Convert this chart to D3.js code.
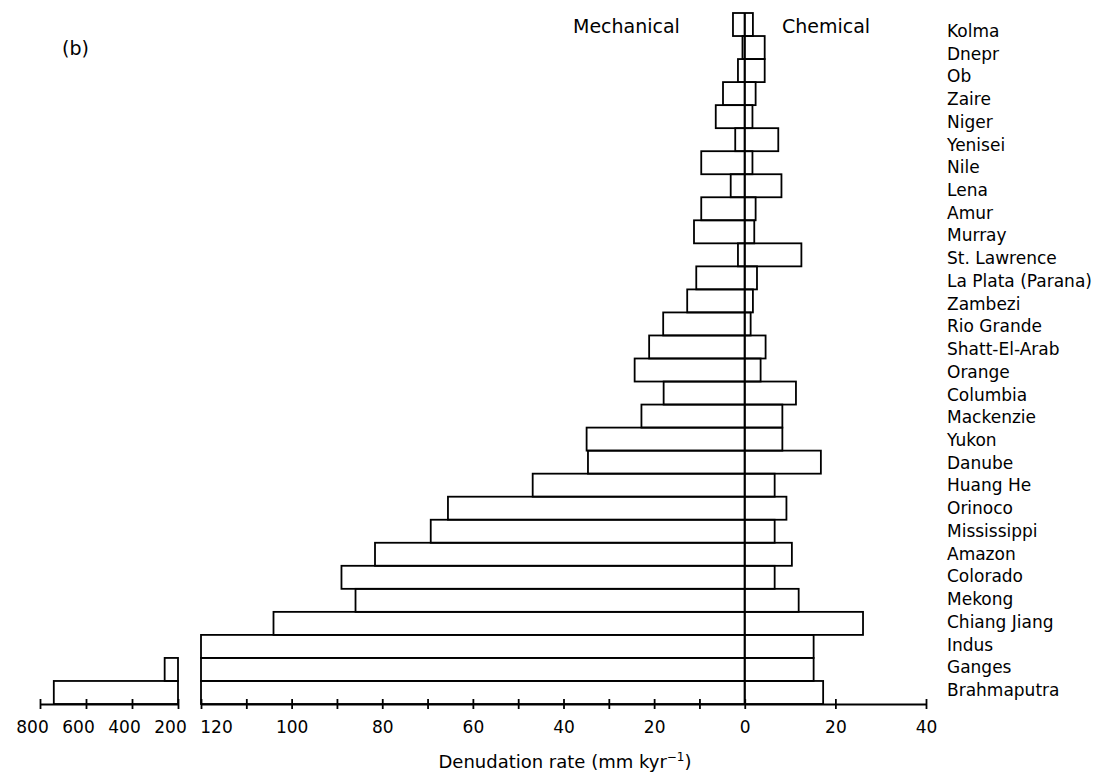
<!DOCTYPE html>
<html>
<head>
<meta charset="utf-8">
<script src="https://cdn.jsdelivr.net/npm/d3@7"></script>
<style>
body { margin: 0; background: #fff; }
svg text { font-family: "DejaVu Sans", sans-serif; fill: #000; }
</style>
</head>
<body>
<svg id="chart" width="1114" height="779"></svg>
<script>
// dane - rzeki od gory do dolu
const rivers = ["Kolma", "Dnepr", "Ob", "Zaire", "Niger", "Yenisei", "Nile", "Lena", "Amur", "Murray",
  "St. Lawrence", "La Plata (Parana)", "Zambezi", "Rio Grande", "Shatt-El-Arab", "Orange", "Columbia",
  "Mackenzie", "Yukon", "Danube", "Huang He", "Orinoco", "Mississippi", "Amazon", "Colorado", "Mekong",
  "Chiang Jiang", "Indus", "Ganges", "Brahmaputra"];
// mechaniczna denudacja (mm/kyr)
const mechanical = [2.6, 0.5, 1.5, 4.8, 6.4, 2.1, 9.6, 3.1, 9.6, 11.2,
  1.5, 10.7, 12.7, 18.0, 21.1, 24.3, 17.9,
  22.8, 34.9, 34.6, 46.8, 65.5, 69.3, 81.6, 89.0, 85.9,
  104.0, 120, 258, 740];
// chemiczna denudacja (mm/kyr)
const chemical = [1.8, 4.4, 4.4, 2.4, 1.7, 7.4, 1.7, 8.1, 2.4, 2.1,
  12.5, 2.7, 1.8, 1.3, 4.6, 3.5, 11.3,
  8.3, 8.3, 16.8, 6.6, 9.2, 6.6, 10.4, 6.6, 11.9,
  26.1, 15.2, 15.2, 17.3];
const mainTicks = [-120, -110, -100, -90, -80, -70, -60, -50, -40, -30, -20, -10, 0, 20, 40];
const breakTicks = [800, 600, 400, 200];

const svg = d3.select("#chart");
const axisY = 704;
const ink = "#000";

// skale
const xMain = d3.scaleLinear().domain([-120, 40]).range([201, 926]);
const xBreak = d3.scaleLinear().domain([800, 200]).range([40, 178]);
const y = d3.scaleBand().domain(rivers).range([13, axisY]).padding(0);
const yLab = d3.scalePoint().domain(rivers).range([31, 690]);

const rows = rivers.map((r, i) => ({name: r, mech: mechanical[i], chem: chemical[i]}));

// glowne belki (od -mech do +chem)
svg.append("g").selectAll("rect")
  .data(rows)
  .enter()
  .append("rect")
  .attr("x", d => xMain(-Math.min(d.mech, 120)))
  .attr("y", d => y(d.name))
  .attr("width", d => xMain(d.chem) - xMain(-Math.min(d.mech, 120)))
  .attr("height", y.bandwidth())
  .attr("fill", "none")
  .attr("stroke", ink)
  .attr("stroke-width", 1.8);

// belki na przerwanej osi (>200)
svg.append("g").selectAll("rect")
  .data(rows.filter(d => d.mech > 200))
  .enter()
  .append("rect")
  .attr("x", d => xBreak(d.mech))
  .attr("y", d => y(d.name))
  .attr("width", d => xBreak(200) - xBreak(d.mech))
  .attr("height", y.bandwidth())
  .attr("fill", "none")
  .attr("stroke", ink)
  .attr("stroke-width", 1.8);

// linia zera
svg.append("line")
  .attr("x1", xMain(0)).attr("x2", xMain(0))
  .attr("y1", 13).attr("y2", axisY)
  .attr("stroke", ink)
  .attr("stroke-width", 2.2);

// os glowna
const gMain = svg.append("g")
  .attr("transform", "translate(0," + axisY + ")")
  .call(d3.axisBottom(xMain)
    .tickValues(mainTicks)
    .tickSizeOuter(0)
    .tickFormat(d => (d % 20 === 0) ? Math.abs(d) : ""));

// os przerwana
const gBreak = svg.append("g")
  .attr("transform", "translate(0," + axisY + ")")
  .call(d3.axisBottom(xBreak)
    .tickValues(breakTicks)
    .tickSizeOuter(0)
    .tickFormat(d => d));

[gMain, gBreak].forEach(g => {
  g.select(".domain").attr("stroke", ink).attr("stroke-width", 1.8);
  g.selectAll(".tick line").attr("y1", -5).attr("y2", 5).attr("stroke", ink).attr("stroke-width", 1.8);
  g.selectAll(".tick text").attr("y", 17).attr("font-size", 17).attr("fill", ink);
});
gBreak.selectAll(".tick text").attr("dx", -8);
gMain.selectAll(".tick text").filter(d => d === -120).attr("dx", 15);

// etykiety rzek
svg.append("g").selectAll("text")
  .data(rivers)
  .enter()
  .append("text")
  .attr("x", 947)
  .attr("y", d => yLab(d))
  .attr("dy", "0.35em")
  .attr("font-size", 17)
  .text(d => d);

// naglowki
svg.append("text").attr("x", 573).attr("y", 33).attr("font-size", 19).text("Mechanical");
svg.append("text").attr("x", 782).attr("y", 33).attr("font-size", 19).text("Chemical");
svg.append("text").attr("x", 62).attr("y", 55).attr("font-size", 19).text("(b)");

// tytul osi
const title = svg.append("text")
  .attr("x", 565)
  .attr("y", 768)
  .attr("text-anchor", "middle")
  .attr("font-size", 18);
title.append("tspan").text("Denudation rate (mm kyr");
title.append("tspan").attr("font-size", 12).attr("dy", -7).text("−1");
title.append("tspan").attr("dy", 7).text(")");
</script>
</body>
</html>
